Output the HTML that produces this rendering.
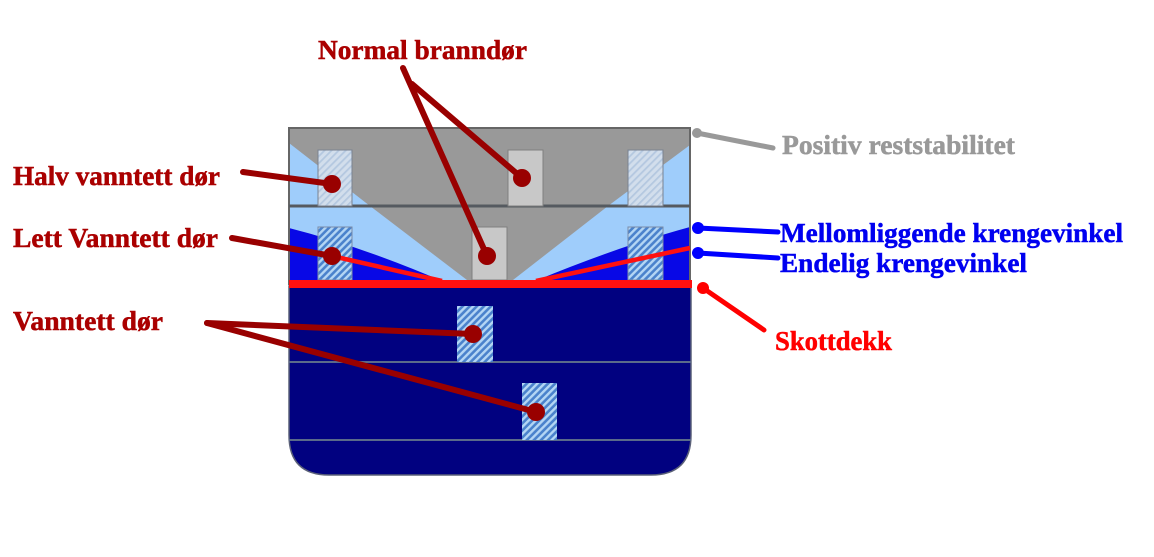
<!DOCTYPE html>
<html>
<head>
<meta charset="utf-8">
<style>
  html,body{margin:0;padding:0;background:#fff;}
  svg{display:block;}
  text{font-family:"Liberation Serif","Times New Roman",serif;font-weight:bold;font-size:27px;stroke-width:0.5px;}
</style>
</head>
<body>
<svg width="1154" height="557" viewBox="0 0 1154 557" xmlns="http://www.w3.org/2000/svg">
  <defs>
    <pattern id="hl" width="5" height="5" patternUnits="userSpaceOnUse" patternTransform="rotate(45)">
      <rect width="5" height="5" fill="#d2deec"/>
      <rect width="1.8" height="5" fill="#b4c8e0"/>
    </pattern>
    <pattern id="hb" width="5" height="5" patternUnits="userSpaceOnUse" patternTransform="rotate(45)">
      <rect width="5" height="5" fill="#4a82cc"/>
      <rect width="2.4" height="5" fill="#b4d6f4"/>
    </pattern>
  </defs>

  <rect width="1154" height="557" fill="#fff"/>

  <!-- light blue base for upper compartments -->
  <rect x="289" y="128" width="402" height="156" fill="#9fcdfb"/>

  <!-- gray region -->
  <polygon points="289,128 690,128 690,145 608,206 513,280 467,280 370,206 289,143" fill="#999999"/>

  <!-- dark blue flooding -->
  <path d="M289,228 Q360,246 442,281 L289,281 Z" fill="#0808e6"/>
  <path d="M690,227 Q620,246 535,281 L690,281 Z" fill="#0808e6"/>

  <!-- navy lower hull -->
  <path d="M289,286 H691 V435 Q691,475 651,475 H329 Q289,475 289,435 Z" fill="#010180" stroke="#5a6078" stroke-width="1.5"/>
  <line x1="289" y1="362" x2="691" y2="362" stroke="#5a6a8a" stroke-width="2"/>
  <line x1="289" y1="440" x2="691" y2="440" stroke="#5a6a8a" stroke-width="2"/>

  <!-- outline upper -->
  <rect x="289" y="128" width="401" height="156" fill="none" stroke="#666" stroke-width="2"/>
  <line x1="289" y1="206" x2="690" y2="206" stroke="#555a60" stroke-width="3"/>

  <!-- doors -->
  <rect x="318" y="150" width="34" height="56" fill="url(#hl)" stroke="#7a8290" stroke-width="1"/>
  <rect x="508" y="150" width="35" height="56" fill="#c8c8c8" stroke="#808080" stroke-width="1"/>
  <rect x="628" y="150" width="35" height="56" fill="url(#hl)" stroke="#7a8290" stroke-width="1"/>
  <rect x="318" y="227" width="34" height="53" fill="url(#hb)" stroke="#7a8ca8" stroke-width="1"/>
  <rect x="472" y="227" width="35" height="53" fill="#c8c8c8" stroke="#808080" stroke-width="1"/>
  <rect x="628" y="227" width="35" height="53" fill="url(#hb)" stroke="#7a8ca8" stroke-width="1"/>
  <rect x="457" y="306" width="36" height="56" fill="url(#hb)"/>
  <rect x="522" y="383" width="35" height="57" fill="url(#hb)"/>

  <!-- red lines -->
  <line x1="332" y1="256" x2="442" y2="281" stroke="#ff1010" stroke-width="4.5"/>
  <line x1="690" y1="248" x2="536" y2="281" stroke="#ff1010" stroke-width="4.5"/>
  <rect x="289" y="280" width="403" height="8" fill="#ff1010"/>

  <!-- dark red leaders -->
  <g stroke="#990000" stroke-width="6" stroke-linecap="round" fill="none">
    <line x1="243" y1="172" x2="332" y2="184"/>
    <line x1="232" y1="238" x2="332" y2="256"/>
    <line x1="207" y1="323" x2="473" y2="334"/>
    <line x1="207" y1="323" x2="536" y2="412"/>
    <line x1="403" y1="68" x2="487" y2="256"/>
    <line x1="412" y1="84" x2="522" y2="178"/>
  </g>
  <g fill="#990000">
    <circle cx="332" cy="184" r="9"/>
    <circle cx="522" cy="178" r="9"/>
    <circle cx="487" cy="256" r="9"/>
    <circle cx="332" cy="256" r="9"/>
    <circle cx="473" cy="334" r="9"/>
    <circle cx="536" cy="412" r="9"/>
  </g>

  <!-- right leaders -->
  <line x1="697" y1="133" x2="773" y2="148" stroke="#999" stroke-width="5" stroke-linecap="round"/>
  <circle cx="697" cy="133" r="5" fill="#999"/>
  <line x1="698" y1="228" x2="778" y2="232" stroke="#0000ff" stroke-width="5" stroke-linecap="round"/>
  <circle cx="698" cy="228" r="6" fill="#0000ff"/>
  <line x1="698" y1="253" x2="778" y2="258" stroke="#0000ff" stroke-width="5" stroke-linecap="round"/>
  <circle cx="698" cy="253" r="6" fill="#0000ff"/>
  <line x1="703" y1="288" x2="764" y2="330" stroke="#ff0000" stroke-width="5" stroke-linecap="round"/>
  <circle cx="703" cy="288" r="6" fill="#ff0000"/>

  <!-- labels -->
  <text x="318" y="59" fill="#aa0000" stroke="#aa0000" textLength="209" lengthAdjust="spacingAndGlyphs">Normal branndør</text>
  <text x="13" y="185" fill="#aa0000" stroke="#aa0000" textLength="207" lengthAdjust="spacingAndGlyphs">Halv vanntett dør</text>
  <text x="13" y="247" fill="#aa0000" stroke="#aa0000" textLength="205" lengthAdjust="spacingAndGlyphs">Lett Vanntett dør</text>
  <text x="13" y="330" fill="#aa0000" stroke="#aa0000" textLength="150" lengthAdjust="spacingAndGlyphs">Vanntett dør</text>
  <text x="782" y="154" fill="#999999" stroke="#999999" textLength="233" lengthAdjust="spacingAndGlyphs">Positiv reststabilitet</text>
  <text x="780" y="242" fill="#0000f0" stroke="#0000f0" textLength="343" lengthAdjust="spacingAndGlyphs">Mellomliggende krengevinkel</text>
  <text x="780" y="272" fill="#0000f0" stroke="#0000f0" textLength="247" lengthAdjust="spacingAndGlyphs">Endelig krengevinkel</text>
  <text x="775" y="350" fill="#ff0000" stroke="#ff0000" textLength="117" lengthAdjust="spacingAndGlyphs">Skottdekk</text>
</svg>
</body>
</html>
